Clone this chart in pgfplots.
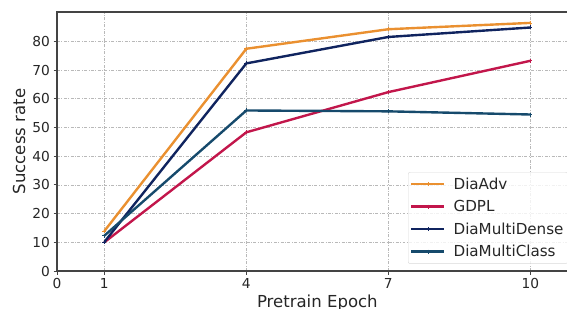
\documentclass[border=0pt]{standalone}
\usepackage{pgfplots}
\pgfplotsset{compat=1.18}
\usepackage{fontspec}
\setmainfont{DejaVu Sans}
\definecolor{cAdv}{HTML}{EA9030}
\definecolor{cGDPL}{HTML}{C2164B}
\definecolor{cDense}{HTML}{10245F}
\definecolor{cClass}{HTML}{164A6C}
\definecolor{spine}{HTML}{444444}
\begin{document}
\begin{tikzpicture}
\useasboundingbox (-57bp,-38bp) rectangle (510bp,271bp);
\clip (-57bp,-38bp) rectangle (510bp,271bp);
\begin{axis}[
  scale only axis,
  width=520.7bp, height=259bp,
  xmin=0, xmax=11, ymin=0, ymax=90.2,
  xtick={0,1,4,7,10},
  ytick={0,10,20,30,40,50,60,70,80},
  tick pos=left,
  tick align=outside,
  major tick length=3.5bp,
  every tick/.style={spine, line width=0.8pt},
  axis line style={spine, line width=1.1pt},
  grid=major,
  grid style={gray!55, line width=0.6pt, dash pattern=on 3pt off 1.5pt on 0.8pt off 1.5pt},
  /pgf/number format/assume math mode=true,
  ticklabel style={font=\fontsize{13.8}{16}\selectfont, text=black!85},
  label style={font=\fontsize{16.6}{19}\selectfont, text=black!85},
  xlabel={Pretrain Epoch},
  ylabel={Success rate},
  xlabel style={at={(axis description cs:0.5,0)}, anchor=north, yshift=-20bp},
  ylabel style={at={(axis description cs:0,0.5)}, anchor=south, yshift=28bp},
  legend cell align=left,
  legend style={at={(rel axis cs:0.6741,0.3822)}, anchor=north west,
    draw=gray!30, rounded corners=2pt, fill=white, fill opacity=0.8, text opacity=1,
    font=\fontsize{15.2}{17.5}\selectfont, text=black!85,
    inner xsep=2bp, inner ysep=3.5bp, row sep=5.6bp,
    /tikz/every odd column/.append style={column sep=6bp}},
  legend image code/.code={\draw[mark repeat=2,mark phase=2,#1] plot coordinates {(0bp,0bp) (16.5bp,0bp) (33bp,0bp)};},
  every axis plot/.append style={line width=2.4pt, mark=+, mark size=2bp, mark options={line width=0.8pt, solid}},
]
\addplot[cAdv] coordinates {(1,13.9) (4,77.4) (7,84.2) (10,86.4)};
\addlegendentry{DiaAdv}
\addplot[cGDPL] coordinates {(1,10.0) (4,48.3) (7,62.3) (10,73.2)};
\addlegendentry{GDPL}
\addplot[cDense] coordinates {(1,10.1) (4,72.3) (7,81.5) (10,84.8)};
\addlegendentry{DiaMultiDense}
\addplot[cClass] coordinates {(1,12.3) (4,55.9) (7,55.6) (10,54.5)};
\addlegendentry{DiaMultiClass}
\end{axis}
\end{tikzpicture}
\end{document}
